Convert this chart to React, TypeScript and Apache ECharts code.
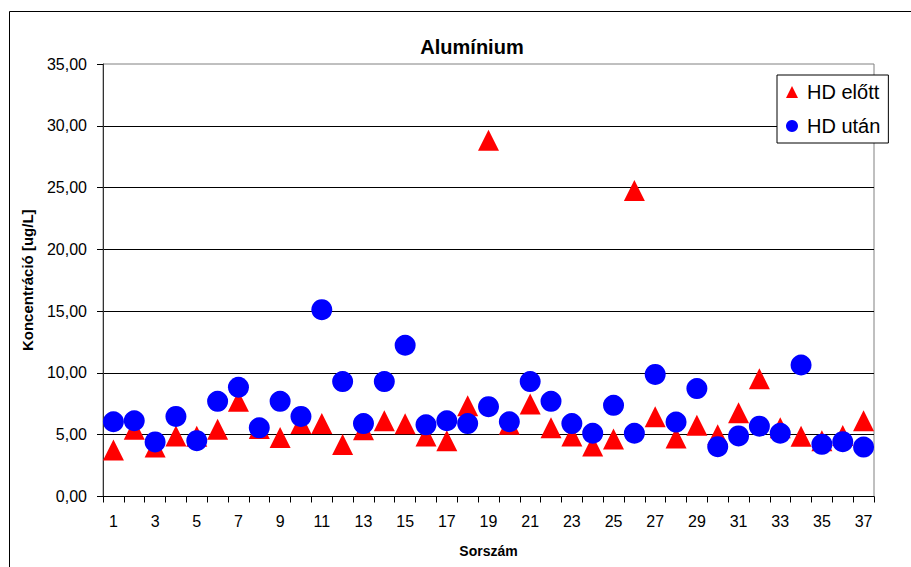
import React, { useEffect, useRef } from "react";
import * as echarts from "echarts";

const categories: string[] = Array.from({ length: 37 }, (_, i) => String(i + 1));

const hdBefore: number[] = [
  3.76, 5.45, 4.0, 4.9, 4.88, 5.45, 7.7, 5.5, 4.77, 5.9,
  5.9, 4.2, 5.4, 6.13, 5.88, 4.9, 4.52, 7.35, 28.83, 5.85,
  7.48, 5.56, 4.9, 4.09, 4.66, 24.76, 6.45, 4.74, 5.77, 5.0,
  6.78, 9.52, 5.56, 4.88, 4.52, 4.93, 6.13,
];

const hdAfter: number[] = [
  6.05, 6.13, 4.42, 6.48, 4.52, 7.7, 8.84, 5.56, 7.7, 6.48,
  15.12, 9.3, 5.9, 9.3, 12.24, 5.8, 6.13, 5.9, 7.27, 6.05,
  9.3, 7.7, 5.9, 5.12, 7.38, 5.12, 9.88, 6.02, 8.73, 4.03,
  4.9, 5.69, 5.12, 10.64, 4.22, 4.44, 4.0,
];

const yTickLabels: string[] = ["0,00", "5,00", "10,00", "15,00", "20,00", "25,00", "30,00", "35,00"];

const FONT = "Arial, 'Liberation Sans', sans-serif";

export default function App() {
  const ref = useRef<HTMLDivElement>(null);

  useEffect(() => {
    if (!ref.current) return;
    const chart = echarts.init(ref.current, null, { renderer: "svg" });
    chart.setOption({
      animation: false,
      backgroundColor: "#ffffff",
      title: {
        text: "Alumínium",
        left: 467,
        top: 32,
        textAlign: "center",
        textStyle: { fontFamily: FONT, fontSize: 20, fontWeight: "bold", color: "#000" },
      },
      legend: {
        orient: "vertical",
        left: 777,
        top: 75,
        padding: [7, 8, 7, 9],
        itemGap: 14,
        itemWidth: 12,
        itemHeight: 12,
        backgroundColor: "#fff",
        borderColor: "#000",
        borderWidth: 1,
        borderRadius: 0,
        textStyle: { fontFamily: FONT, fontSize: 20, color: "#000", lineHeight: 20, padding: [0, 0, 0, 4] },
        data: [
          { name: "HD előtt", icon: "triangle" },
          { name: "HD után", icon: "circle" },
        ],
      },
      grid: {
        left: 103,
        top: 64,
        right: 37,
        bottom: 70.5,
        show: true,
        borderColor: "#808080",
        borderWidth: 1,
        backgroundColor: "#fff",
        containLabel: false,
      },
      graphic: [
        {
          type: "rect",
          shape: { x: 9.5, y: 11.5, width: 1000, height: 1000 },
          style: { fill: "none", stroke: "#000", lineWidth: 1 },
          silent: true,
        },
      ],
      xAxis: {
        type: "category",
        data: categories,
        boundaryGap: true,
        name: "Sorszám",
        nameLocation: "middle",
        nameGap: 47,
        nameTextStyle: { fontFamily: FONT, fontSize: 14, fontWeight: "bold", color: "#000", verticalAlign: "top" },
        axisLine: { show: true, lineStyle: { color: "#000", width: 1 } },
        axisTick: { show: true, inside: false, length: 6, interval: 0, alignWithLabel: false, lineStyle: { color: "#000" } },
        axisLabel: {
          interval: 1,
          margin: 17,
          fontFamily: FONT,
          fontSize: 16,
          color: "#000",
        },
        splitLine: { show: false },
      },
      yAxis: {
        type: "value",
        min: 0,
        max: 35,
        interval: 5,
        name: "Koncentráció [ug/L]",
        nameLocation: "middle",
        nameGap: 68,
        nameRotate: 90,
        nameTextStyle: { fontFamily: FONT, fontSize: 15, fontWeight: "bold", color: "#000" },
        axisLine: { show: true, lineStyle: { color: "#333", width: 1 } },
        axisTick: { show: true, inside: false, length: 6, lineStyle: { color: "#000" } },
        axisLabel: {
          margin: 16,
          fontFamily: FONT,
          fontSize: 16,
          color: "#000",
          formatter: (v: number) => yTickLabels[Math.round(v / 5)] ?? "",
        },
        splitLine: { show: true, showMinLine: false, showMaxLine: false, lineStyle: { color: "#000", width: 1 } },
      },
      series: [
        {
          name: "HD előtt",
          type: "scatter",
          symbol: "triangle",
          symbolSize: 21,
          itemStyle: { color: "#ff0000", opacity: 1 },
          data: hdBefore,
          z: 2,
        },
        {
          name: "HD után",
          type: "scatter",
          symbol: "circle",
          symbolSize: 21,
          itemStyle: { color: "#0000ff", opacity: 1 },
          data: hdAfter,
          z: 3,
        },
      ],
    });
    return () => chart.dispose();
  }, []);

  return (
    <div
      ref={ref}
      style={{ position: "fixed", left: 0, top: 0, width: 911, height: 567, background: "#fff" }}
    />
  );
}
